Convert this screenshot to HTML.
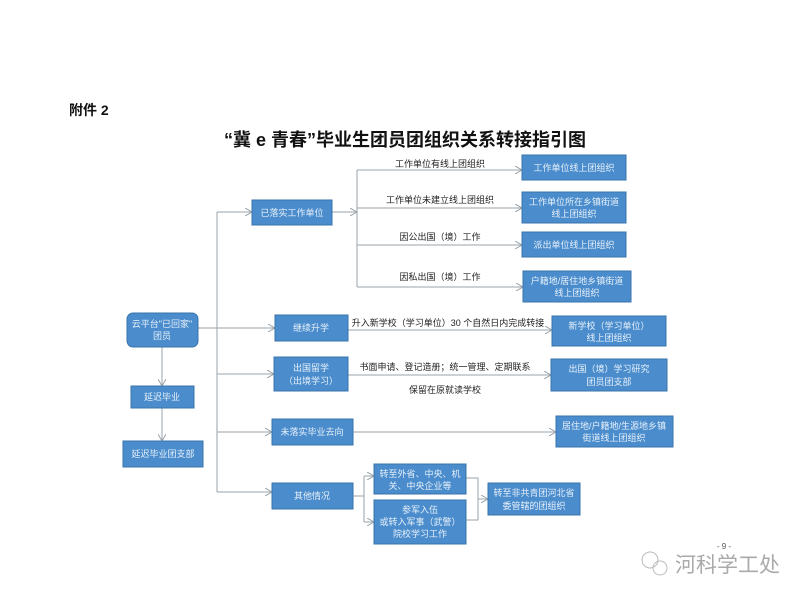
<!DOCTYPE html>
<html><head><meta charset="utf-8"><style>
body{margin:0;background:#fff}
svg{display:block}
text{font-family:"Liberation Sans","Noto Sans CJK SC",sans-serif}
.b{fill:#4a8ccc;stroke:#3a74ad;stroke-width:1}
.w{fill:#e8f1fa;font-size:9px;text-anchor:middle}
.l{fill:#222;font-size:9px;text-anchor:middle}
.ln{stroke:#9aa3ab;stroke-width:1;fill:none}
</style></head><body>
<svg width="800" height="600" viewBox="0 0 800 600">
<defs><marker id="a" markerWidth="8" markerHeight="8" refX="7" refY="4" orient="auto"><path d="M0,0 L7,4 L0,8" fill="none" stroke="#9aa3ab" stroke-width="1"/></marker></defs>
<text x="69" y="115" font-size="14" font-weight="bold" fill="#111">附件 2</text>
<text x="405" y="146" font-size="18" font-weight="bold" fill="#111" text-anchor="middle">“冀 e 青春”毕业生团员团组织关系转接指引图</text>

<!-- trunk -->
<path class="ln" d="M198,328 H217 M217,212 V492"/>
<path class="ln" marker-end="url(#a)" d="M217,212 H252"/>
<path class="ln" marker-end="url(#a)" d="M217,328 H275"/>
<path class="ln" marker-end="url(#a)" d="M217,374 H274"/>
<path class="ln" marker-end="url(#a)" d="M217,432 H272"/>
<path class="ln" marker-end="url(#a)" d="M217,492 H272"/>
<path class="ln" marker-end="url(#a)" d="M162,347 V386"/>
<path class="ln" marker-end="url(#a)" d="M162,408 V441"/>
<!-- second -->
<path class="ln" marker-end="url(#a)" d="M332,212 H357"/>
<path class="ln" d="M357,170 V287"/>
<path class="ln" marker-end="url(#a)" d="M357,170 H522"/>
<path class="ln" marker-end="url(#a)" d="M357,208 H522"/>
<path class="ln" marker-end="url(#a)" d="M357,245 H522"/>
<path class="ln" marker-end="url(#a)" d="M357,287 H523"/>
<path class="ln" marker-end="url(#a)" d="M348,330 H552"/>
<path class="ln" marker-end="url(#a)" d="M348,375 H551"/>
<path class="ln" marker-end="url(#a)" d="M353,432 H556"/>
<path class="ln" d="M353,496 H364 M364,476 V522"/>
<path class="ln" marker-end="url(#a)" d="M364,476 H374"/>
<path class="ln" marker-end="url(#a)" d="M364,522 H374"/>
<path class="ln" d="M466,478 H478 V520 H466"/>
<path class="ln" marker-end="url(#a)" d="M478,499 H488"/>

<text class="l" x="440" y="167">工作单位有线上团组织</text>
<text class="l" x="440" y="203">工作单位未建立线上团组织</text>
<text class="l" x="440" y="240">因公出国（境）工作</text>
<text class="l" x="440" y="280">因私出国（境）工作</text>
<text class="l" x="448" y="326">升入新学校（学习单位）30 个自然日内完成转接</text>
<text class="l" x="445" y="370">书面申请、登记造册；统一管理、定期联系</text>
<text class="l" x="445" y="393">保留在原就读学校</text>

<rect class="b" x="127" y="313" width="71" height="34" rx="6"/>
<text class="w" x="162" y="327">云平台"已回家"</text><text class="w" x="162" y="339">团员</text>
<rect class="b" x="252" y="200" width="80" height="25"/><text class="w" x="292" y="216">已落实工作单位</text>
<rect class="b" x="275" y="315" width="73" height="26"/><text class="w" x="311" y="331">继续升学</text>
<rect class="b" x="274" y="357" width="74" height="34"/><text class="w" x="311" y="371">出国留学</text><text class="w" x="311" y="384">（出境学习）</text>
<rect class="b" x="272" y="419" width="81" height="26"/><text class="w" x="312" y="435">未落实毕业去向</text>
<rect class="b" x="272" y="483" width="81" height="26"/><text class="w" x="312" y="499">其他情况</text>
<rect class="b" x="131" y="386" width="63" height="22"/><text class="w" x="162" y="400">延迟毕业</text>
<rect class="b" x="123" y="441" width="80" height="26"/><text class="w" x="163" y="457">延迟毕业团支部</text>

<rect class="b" x="522" y="155" width="104" height="25"/><text class="w" x="574" y="171">工作单位线上团组织</text>
<rect class="b" x="522" y="192" width="104" height="31"/><text class="w" x="574" y="205">工作单位所在乡镇街道</text><text class="w" x="574" y="217">线上团组织</text>
<rect class="b" x="522" y="232" width="104" height="25"/><text class="w" x="574" y="248">派出单位线上团组织</text>
<rect class="b" x="523" y="271" width="108" height="31"/><text class="w" x="577" y="284">户籍地/居住地乡镇街道</text><text class="w" x="577" y="296">线上团组织</text>
<rect class="b" x="552" y="316" width="114" height="30"/><text class="w" x="609" y="329">新学校（学习单位）</text><text class="w" x="609" y="341">线上团组织</text>
<rect class="b" x="551" y="359" width="116" height="32"/><text class="w" x="609" y="372">出国（境）学习研究</text><text class="w" x="609" y="385">团员团支部</text>
<rect class="b" x="556" y="416" width="117" height="31"/><text class="w" x="614" y="429">居住地/户籍地/生源地乡镇</text><text class="w" x="614" y="441">街道线上团组织</text>
<rect class="b" x="374" y="464" width="92" height="30"/><text class="w" x="420" y="477">转至外省、中央、机</text><text class="w" x="420" y="489">关、中央企业等</text>
<rect class="b" x="374" y="500" width="92" height="44"/><text class="w" x="420" y="513">参军入伍</text><text class="w" x="420" y="525">或转入军事（武警）</text><text class="w" x="420" y="537">院校学习工作</text>
<rect class="b" x="488" y="483" width="92" height="32"/><text class="w" x="534" y="496">转至非共青团河北省</text><text class="w" x="534" y="509">委管辖的团组织</text>

<text x="724" y="549" font-size="8" fill="#555" text-anchor="middle">- 9 -</text>
<circle cx="650" cy="560" r="8" fill="none" stroke="#bbb"/><circle cx="660" cy="568" r="7" fill="none" stroke="#bbb"/>
<text x="675" y="572" font-size="21" fill="#aaa">河科学工处</text>
</svg>
</body></html>
